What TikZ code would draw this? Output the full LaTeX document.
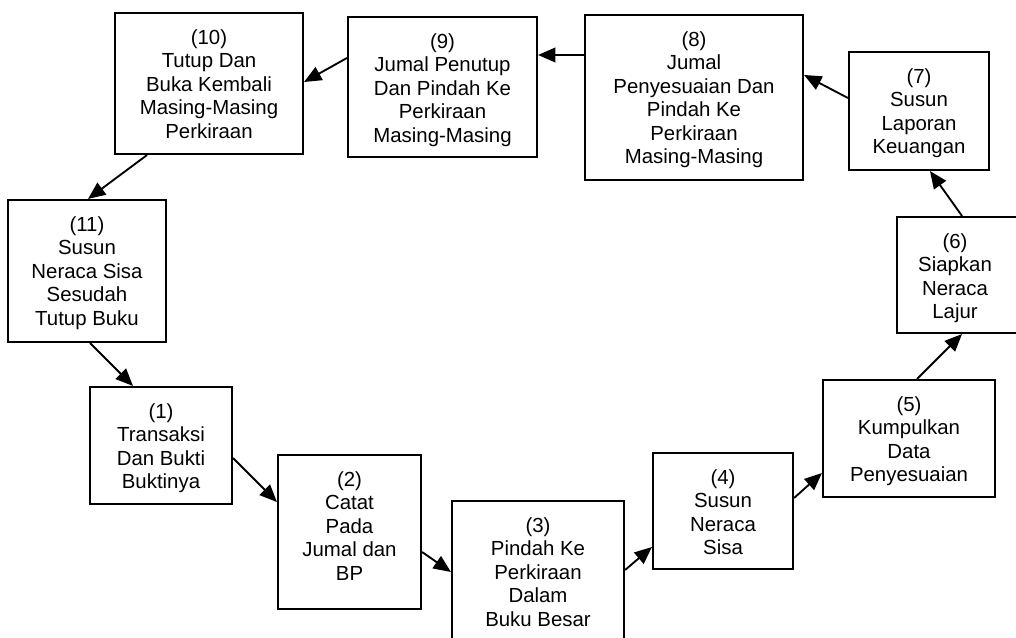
\documentclass[tikz,border=0pt]{standalone}
\usepackage{fontspec}
\setmainfont{Liberation Sans}
\usetikzlibrary{arrows.meta,calc}
\begin{document}
\begin{tikzpicture}[x=0.75pt,y=-0.75pt,
  box/.style 2 args={draw, line width=1.6pt, minimum width=#1*0.75pt, minimum height=#2*0.75pt, inner sep=0pt},
  txt/.style={anchor=north, align=center, inner sep=0pt, font=\fontsize{15.3pt}{17.6pt}\selectfont},
  arr/.style={line width=1.4pt, -{Triangle[length=13pt,width=11pt]}}]
\useasboundingbox (0,0) rectangle (1016,638);
% boxes (centre, width, height in px)
\node[box={188}{141}] (b10) at (209,83.5) {};
\node[box={189}{140}] (b9) at (442.5,87) {};
\node[box={218}{165}] (b8) at (694,97.5) {};
\node[box={140}{118}] (b7) at (919,111) {};
\node[box={130}{116}] (b6) at (962,275) {};
\node[box={172}{117}] (b5) at (909,438.5) {};
\node[box={140}{116}] (b4) at (723,511) {};
\node[box={172}{150}] (b3) at (538,576) {};
\node[box={143}{154}] (b2) at (349.5,532) {};
\node[box={142}{117}] (b1) at (161,445.5) {};
\node[box={158}{142}] (b11) at (87,271) {};
% texts
\node[txt] (t10) at ([yshift=-13pt]b10.north) {(10)\\Tutup Dan\\Buka Kembali\\Masing-Masing\\Perkiraan};
\node[txt] (t9) at ([yshift=-13pt]b9.north) {(9)\\Jumal Penutup\\Dan Pindah Ke\\Perkiraan\\Masing-Masing};
\node[txt] (t8) at ([yshift=-13pt]b8.north) {(8)\\Jumal\\Penyesuaian Dan\\Pindah Ke\\Perkiraan\\Masing-Masing};
\node[txt] (t7) at ([yshift=-13pt]b7.north) {(7)\\Susun\\Laporan\\Keuangan};
\node[txt] (t6) at ([yshift=-13pt]b6.north -| 955,0) {(6)\\Siapkan\\Neraca\\Lajur};
\node[txt] (t5) at ([yshift=-13pt]b5.north) {(5)\\Kumpulkan\\Data\\Penyesuaian};
\node[txt] (t4) at ([yshift=-13pt]b4.north) {(4)\\Susun\\Neraca\\Sisa};
\node[txt] (t3) at ([yshift=-13pt]b3.north) {(3)\\Pindah Ke\\Perkiraan\\Dalam\\Buku Besar};
\node[txt] (t2) at ([yshift=-13pt]b2.north) {(2)\\Catat\\Pada\\Jumal dan\\BP};
\node[txt] (t1) at ([yshift=-13pt]b1.north) {(1)\\Transaksi\\Dan Bukti\\Buktinya};
\node[txt] (t11) at ([yshift=-13pt]b11.north) {(11)\\Susun\\Neraca Sisa\\Sesudah\\Tutup Buku};
% connectors
\draw[arr] (b9.west |- 0,58) -- (b10.east |- 0,82);
\draw[arr] (b10.south -| 147,0) -- (b11.north -| 88,0);
\draw[arr] (b11.south -| 90,0) -- (b1.north -| 133,0);
\draw[arr] (b1.east |- 0,458) -- (b2.west |- 0,502);
\draw[arr] (b2.east |- 0,552) -- (b3.west |- 0,572);
\draw[arr] (b3.east |- 0,570) -- (b4.west |- 0,547);
\draw[arr] (b4.east |- 0,498) -- (b5.west |- 0,473);
\draw[arr] (b5.north -| 917,0) -- (b6.south -| 962,0);
\draw[arr] (b6.north -| 962,0) -- (b7.south -| 930,0);
\draw[arr] (b7.west |- 0,98) -- (b8.east |- 0,75);
\draw[arr] (b8.west |- 0,55) -- (b9.east |- 0,55);
\end{tikzpicture}
\end{document}
